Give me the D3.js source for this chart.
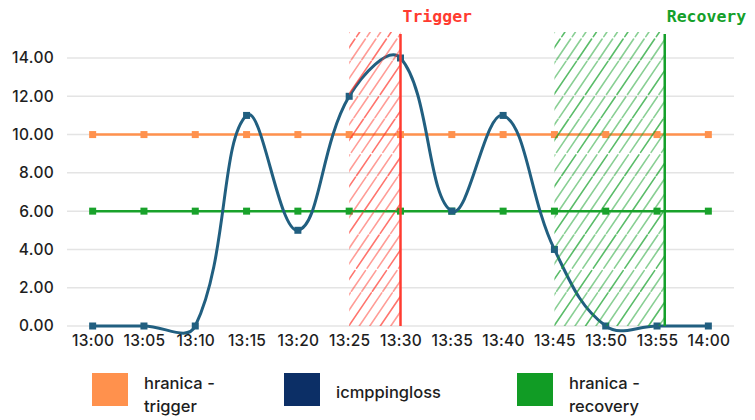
<!DOCTYPE html>
<html>
<head>
<meta charset="utf-8">
<script src="https://cdn.jsdelivr.net/npm/d3@7"></script>
<style>
  html, body { margin: 0; padding: 0; background: #ffffff; }
  svg { display: block; }
  .tick-label { font-family: Inter, "Noto Sans", sans-serif; font-weight: 500; font-size: 15.5px; letter-spacing: 0.3px; fill: #1e1e1e; }
  .legend-label { font-family: Inter, "Noto Sans", sans-serif; font-weight: 500; font-size: 16.5px; fill: #1e1e1e; }
  .mark-label { font-family: "DejaVu Sans Mono", monospace; font-size: 16.5px; font-weight: bold; }
</style>
</head>
<body>
<svg id="chart" width="755" height="420"></svg>
<script>
// Time axis categories (5-minute steps)
const times = ['13:00','13:05','13:10','13:15','13:20','13:25','13:30','13:35','13:40','13:45','13:50','13:55','14:00'];
// Series values
const icmppingloss     = [0, 0, 0, 11, 5, 12, 14, 6, 11, 4, 0, 0, 0];
const hranicaTrigger   = [10, 10, 10, 10, 10, 10, 10, 10, 10, 10, 10, 10, 10];
const hranicaRecovery  = [6, 6, 6, 6, 6, 6, 6, 6, 6, 6, 6, 6, 6];
// Y axis tick values
const yTicks = [0, 2, 4, 6, 8, 10, 12, 14];
// Event windows, in minutes after 13:00
const eventNames  = ['Trigger', 'Recovery'];
const eventStarts = [25, 45];
const eventEnds   = [30, 55.75];

const svg = d3.select('#chart');

const x = d3.scalePoint().domain(times).range([67, 734]).padding(0.5);
const xMin = d3.scaleLinear().domain([0, 60]).range([x('13:00'), x('14:00')]);
const y = d3.scaleLinear().domain([0, 14]).range([326, 58]);

const colors = {
  trigger: '#ff914d',
  loss: '#215f80',
  lossLegend: '#0c2f66',
  recovery: '#19a22b',
  recoveryLegend: '#119c25',
  triggerMark: '#ff3b30',
  recoveryMark: '#14a02a'
};

// Horizontal grid
const grid = svg.append('g');
grid.selectAll('line').data(yTicks).join('line')
  .attr('x1', 67).attr('x2', 734)
  .attr('y1', d => y(d)).attr('y2', d => y(d))
  .attr('stroke', '#e4e4e4').attr('stroke-width', 1.5);

// Y axis labels
const yAxis = d3.axisLeft(y).tickValues(yTicks).tickFormat(d3.format('.2f')).tickSize(0).tickPadding(0);
const yg = svg.append('g').attr('transform', 'translate(54,0)').call(yAxis);
yg.select('.domain').remove();
yg.selectAll('text').attr('class', 'tick-label').attr('fill', null).attr('font-size', null).attr('font-family', null);

// X axis labels
const xAxis = d3.axisBottom(x).tickSize(0).tickPadding(0);
const xg = svg.append('g').attr('transform', 'translate(0,335)').call(xAxis);
xg.select('.domain').remove();
xg.selectAll('text').attr('class', 'tick-label').attr('fill', null).attr('font-size', null).attr('font-family', null).attr('dy', '0.72em');

// Spline through points with tension 0.4 (distance-weighted control points)
function splinePath(values, tension) {
  const pts = values.map((v, i) => ({ x: x(times[i]), y: y(v) }));
  const n = pts.length;
  pts.forEach((p, i) => {
    const prev = pts[Math.max(0, i - 1)], next = pts[Math.min(n - 1, i + 1)];
    const d01 = Math.hypot(p.x - prev.x, p.y - prev.y);
    const d12 = Math.hypot(next.x - p.x, next.y - p.y);
    let s01 = d01 / (d01 + d12), s12 = d12 / (d01 + d12);
    if (!isFinite(s01)) s01 = 0;
    if (!isFinite(s12)) s12 = 0;
    const fa = tension * s01, fb = tension * s12;
    p.cpx0 = p.x - fa * (next.x - prev.x);
    p.cpy0 = p.y - fa * (next.y - prev.y);
    p.cpx1 = p.x + fb * (next.x - prev.x);
    p.cpy1 = p.y + fb * (next.y - prev.y);
  });
  const path = d3.path();
  path.moveTo(pts[0].x, pts[0].y);
  for (let i = 1; i < n; i++) {
    const a = pts[i - 1], b = pts[i];
    path.bezierCurveTo(a.cpx1, a.cpy1, b.cpx0, b.cpy0, b.x, b.y);
  }
  return path.toString();
}

function drawSeries(values, color, width, markSize) {
  const g = svg.append('g');
  g.append('path')
    .attr('d', splinePath(values, 0.4))
    .attr('fill', 'none')
    .attr('stroke', color)
    .attr('stroke-width', width)
    .attr('stroke-linejoin', 'round');
  g.selectAll('rect').data(values).join('rect')
    .attr('x', (d, i) => x(times[i]) - markSize / 2)
    .attr('y', d => y(d) - markSize / 2)
    .attr('width', markSize).attr('height', markSize)
    .attr('fill', color);
}

drawSeries(hranicaTrigger, colors.trigger, 2.5, 7);
drawSeries(hranicaRecovery, colors.recovery, 2.5, 7);
drawSeries(icmppingloss, colors.loss, 3, 7);

// Hatched event windows with a marker line at the end
const defs = svg.append('defs');
const bandTop = 32, bandBottom = y(0);
const eventColors = [colors.triggerMark, colors.recoveryMark];

eventNames.forEach((name, k) => {
  const x0 = xMin(eventStarts[k]), x1 = xMin(eventEnds[k]);
  const clipId = 'clip-' + k;
  defs.append('clipPath').attr('id', clipId)
    .append('rect').attr('x', x0).attr('y', bandTop).attr('width', x1 - x0).attr('height', bandBottom - bandTop);

  const h = bandBottom - bandTop;
  const slant = h * 0.68; // horizontal run of each hatch stroke over the band height
  const step = 10.5;
  const starts = d3.range(x0 - slant, x1 + step, step);
  const hg = svg.append('g').attr('clip-path', `url(#${clipId})`);
  hg.selectAll('line').data(starts).join('line')
    .attr('x1', d => d).attr('y1', bandBottom)
    .attr('x2', d => d + slant).attr('y2', bandTop)
    .attr('stroke', eventColors[k])
    .attr('stroke-opacity', (d, i) => i % 3 === 1 ? 0.7 : 0.5)
    .attr('stroke-width', 1.6)
    .attr('stroke-linecap', 'round')
    .attr('stroke-dasharray', '40 2 25 3');

  svg.append('line')
    .attr('x1', x1).attr('x2', x1)
    .attr('y1', 34).attr('y2', bandBottom)
    .attr('stroke', eventColors[k]).attr('stroke-width', 2.5);

  svg.append('text')
    .attr('class', 'mark-label')
    .attr('x', x1 + 2).attr('y', 22)
    .attr('fill', eventColors[k])
    .text(name);
});

// Legend
const legendNames = [['hranica -', 'trigger'], ['icmppingloss'], ['hranica -', 'recovery']];
const legendColors = [colors.trigger, colors.lossLegend, colors.recoveryLegend];
const legendX = [92, 284, 517];
const lg = svg.append('g');
legendNames.forEach((lines, i) => {
  lg.append('rect')
    .attr('x', legendX[i]).attr('y', 373)
    .attr('width', 36).attr('height', 33)
    .attr('fill', legendColors[i]);
  const t = lg.append('text').attr('class', 'legend-label')
    .attr('x', legendX[i] + 52)
    .attr('y', lines.length === 1 ? 398 : 389);
  lines.forEach((s, j) => {
    t.append('tspan').attr('x', legendX[i] + 52).attr('dy', j === 0 ? 0 : 23).text(s);
  });
});
</script>
</body>
</html>
